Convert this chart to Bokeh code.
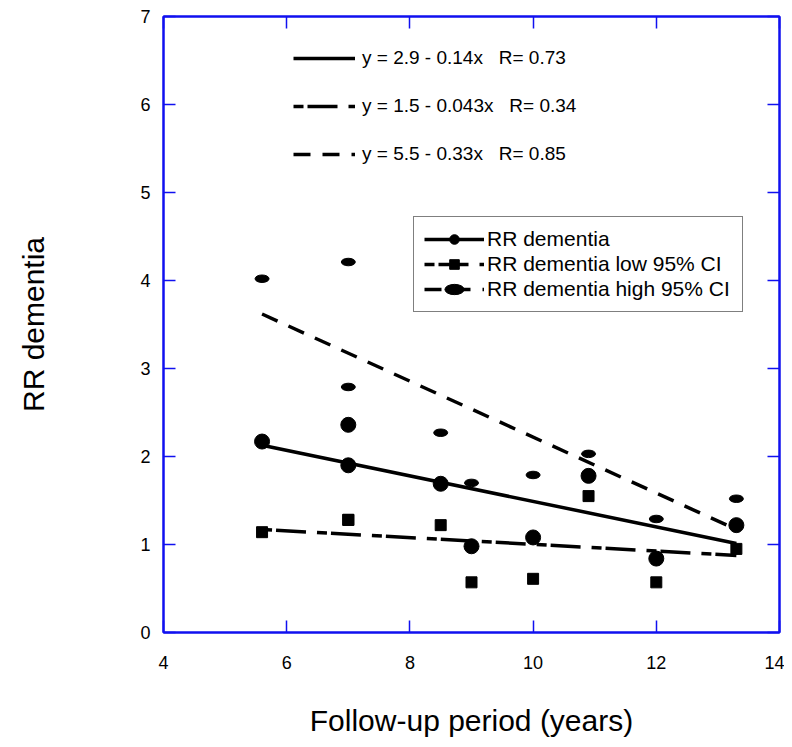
import numpy as np
from bokeh.plotting import figure
from bokeh.models import (Range1d, LinearAxis, Legend, LegendItem, FixedTicker,
                          CustomJSTickFormatter)
from bokeh.embed import file_html
from bokeh.resources import INLINE

# ---- data ----
follow_up = [5.6, 7.0, 7.0, 8.5, 9.0, 10.0, 10.9, 12.0, 13.3]
rr_dementia = [2.17, 2.36, 1.90, 1.69, 0.98, 1.08, 1.78, 0.84, 1.22]
rr_low = [1.14, 1.28, 1.28, 1.22, 0.57, 0.61, 1.55, 0.57, 0.95]
rr_high = [4.02, 4.21, 2.79, 2.27, 1.70, 1.79, 2.03, 1.29, 1.52]

# regression lines as drawn in the reference (intercept, slope)
line_intercepts = [2.94, 1.385, 5.40]
line_slopes = [-0.145, -0.0383, -0.318]

series_names = ["RR dementia", "RR dementia low 95% CI", "RR dementia high 95% CI"]
equations = ["y = 2.9 - 0.14x   R= 0.73",
             "y = 1.5 - 0.043x   R= 0.34",
             "y = 5.5 - 0.33x   R= 0.85"]
x_ticks = [4, 6, 8, 10, 12, 14]
y_ticks = [0, 1, 2, 3, 4, 5, 6, 7]
x_label = "Follow-up period (years)"
y_label = "RR dementia"

FONT = "Liberation Sans"
BLUE = "#1010f0"

p = figure(width=784, height=739, x_range=Range1d(4, 14), y_range=Range1d(0, 7),
           output_backend="svg", toolbar_location=None,
           min_border_left=163, min_border_right=5, min_border_top=16,
           min_border_bottom=106)
p.xgrid.visible = False
p.ygrid.visible = False
p.outline_line_color = BLUE
p.outline_line_width = 2
p.background_fill_color = "white"
p.border_fill_color = "white"


def style_axis(ax, ticks):
    ax.ticker = FixedTicker(ticks=ticks)
    ax.axis_line_color = BLUE
    ax.axis_line_width = 2
    ax.major_tick_line_color = BLUE
    ax.major_tick_line_width = 1.5
    ax.major_tick_in = 12
    ax.major_tick_out = 0
    ax.minor_tick_line_color = None
    ax.major_label_text_font = FONT
    ax.major_label_text_font_size = "18px"
    ax.major_label_text_color = "black"
    ax.axis_label_text_font = FONT
    ax.axis_label_text_font_size = "30px"
    ax.axis_label_text_font_style = "normal"
    ax.axis_label_text_color = "black"


xa = p.xaxis[0]
ya = p.yaxis[0]
style_axis(xa, x_ticks)
style_axis(ya, y_ticks)
xa.axis_label = x_label
ya.axis_label = y_label
xa.major_label_standoff = 23
xa.axis_label_standoff = 32
ya.major_label_standoff = 13
ya.axis_label_standoff = 87

for loc, ticks in (("right", y_ticks), ("above", x_ticks)):
    ax = LinearAxis(formatter=CustomJSTickFormatter(code="return ''"))
    style_axis(ax, ticks)
    ax.major_label_standoff = 0
    p.add_layout(ax, loc)

# ---- regression lines ----
x_arr = np.array(follow_up)
xs_line = [x_arr.min(), x_arr.max()]
dashes = ["solid", "10 4 30 11", "17 12"]
line_renderers = []
for a, b, dash in zip(line_intercepts, line_slopes, dashes):
    ys_line = [a + b * xs_line[0], a + b * xs_line[1]]
    r = p.line(xs_line, ys_line, line_color="black", line_width=3.5, line_dash=dash)
    line_renderers.append(r)

# ---- data points ----
r_rr = p.scatter(follow_up, rr_dementia, marker="circle", size=15,
                 fill_color="black", line_color="black")
r_low = p.scatter(follow_up, rr_low, marker="square", size=11,
                  fill_color="black", line_color="black")
r_high = p.ellipse(follow_up, rr_high, width=14, height=7.5,
                   width_units="screen", height_units="screen",
                   fill_color="black", line_color="black")
markers = [r_rr, r_low, r_high]

# ---- legend of series ----
leg = Legend(items=[LegendItem(label=n, renderers=[lr, mr])
                    for n, lr, mr in zip(series_names, line_renderers, markers)],
             location=(250, 320))
leg.label_text_font = FONT
leg.label_text_font_size = "21px"
leg.label_text_color = "black"
leg.glyph_width = 60
leg.glyph_height = 24
leg.label_height = 24
leg.label_width = 245
leg.label_standoff = 3
leg.spacing = 1
leg.padding = 10
leg.margin = 0
leg.border_line_color = "black"
leg.border_line_width = 1.5
leg.background_fill_alpha = 1
p.add_layout(leg)

# ---- equation key ----
eq = Legend(items=[LegendItem(label=t, renderers=[lr])
                   for t, lr in zip(equations, line_renderers)],
            location=(130, 467))
eq.label_text_font = FONT
eq.label_text_font_size = "19px"
eq.label_text_color = "black"
eq.glyph_width = 62
eq.glyph_height = 22
eq.label_height = 22
eq.label_standoff = 7
eq.spacing = 26
eq.padding = 0
eq.margin = 0
eq.border_line_color = None
eq.background_fill_alpha = 0
p.add_layout(eq)

open("out.html", "w").write(file_html(p, INLINE))
